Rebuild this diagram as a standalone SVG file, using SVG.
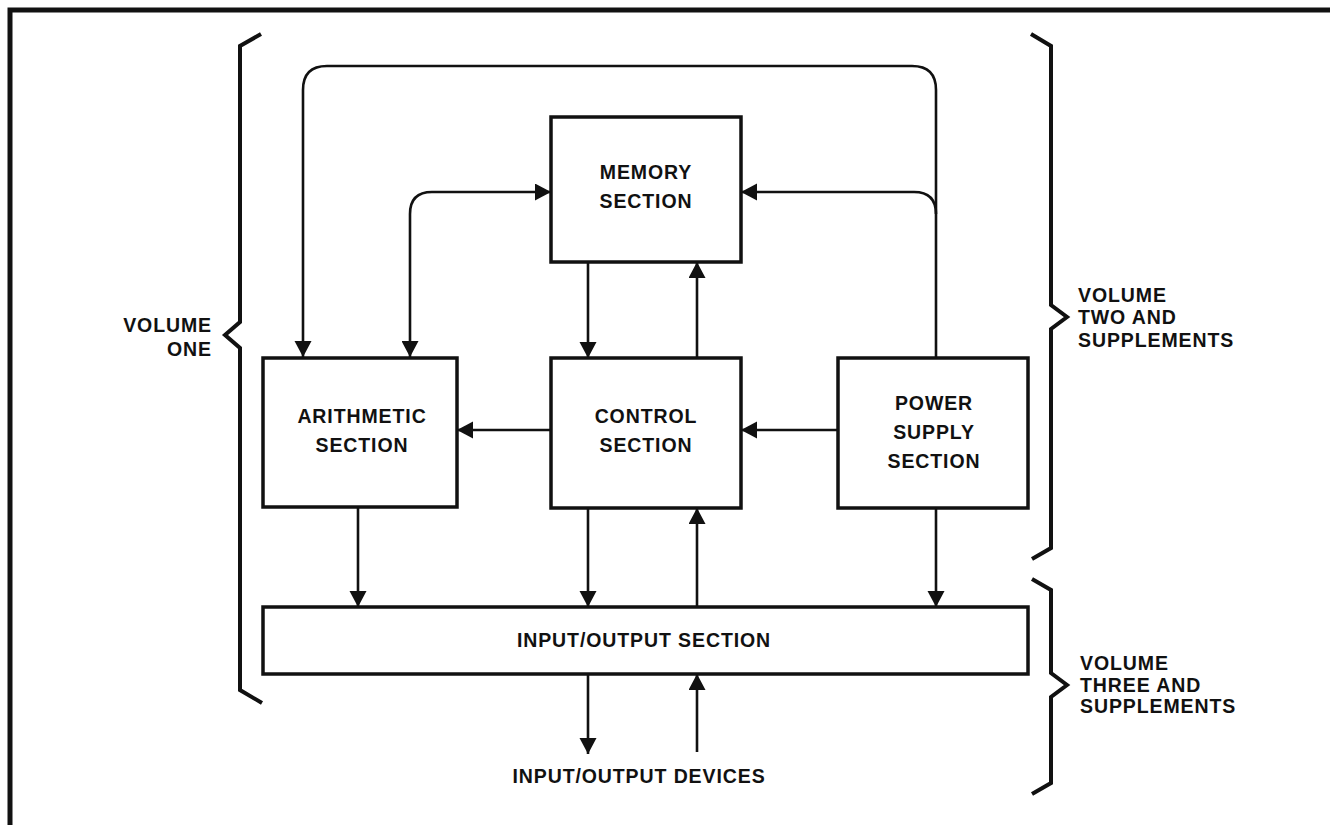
<svg xmlns="http://www.w3.org/2000/svg" width="1330" height="825" viewBox="0 0 1330 825">
  <style>
    .box { fill: #fff; stroke: #111; stroke-width: 3.5; }
    .wire { fill: none; stroke: #111; stroke-width: 2.6; }
    .brace { fill: none; stroke: #111; stroke-width: 4; stroke-linejoin: miter; }
    .frame { fill: none; stroke: #111; stroke-width: 5; }
    text { font-family: "Liberation Sans", Arial, Helvetica, sans-serif; font-weight: bold; font-size: 19.5px; letter-spacing: 0.9px; fill: #111; }
    .c { text-anchor: middle; }
    .r { text-anchor: end; }
  </style>
  <defs>
    <marker id="arrow" markerUnits="userSpaceOnUse" markerWidth="17" markerHeight="18" refX="16" refY="8.5" orient="auto">
      <path d="M0,0 L16,8.5 L0,17 Z" fill="#111"/>
    </marker>
    <marker id="arrowStart" markerUnits="userSpaceOnUse" markerWidth="17" markerHeight="18" refX="0" refY="8.5" orient="auto">
      <path d="M16,0 L0,8.5 L16,17 Z" fill="#111"/>
    </marker>
  </defs>

  <rect width="1330" height="825" fill="#fff"/>

  <!-- page frame: left and top rules -->
  <path class="frame" d="M10,825 L10,10 L1330,10"/>

  <!-- volume braces -->
  <g id="brace-volume-one">
    <path class="brace" d="M261,34 L240,46 L240,322 L225,335 L240,348 L240,690 L262,703"/>
    <text class="r" x="212" y="332" letter-spacing="1.3">VOLUME</text>
    <text class="r" x="212" y="356" letter-spacing="1.3">ONE</text>
  </g>
  <g id="brace-volume-two">
    <path class="brace" d="M1031,34 L1051,46 L1051,305 L1067,317 L1051,329 L1051,548 L1032,559"/>
    <text x="1078" y="302" letter-spacing="1.3">VOLUME</text>
    <text x="1078" y="324" letter-spacing="0.8">TWO AND</text>
    <text x="1078" y="347" letter-spacing="0.4">SUPPLEMENTS</text>
  </g>
  <g id="brace-volume-three">
    <path class="brace" d="M1032,579 L1051,590 L1051,673 L1067,685 L1051,697 L1051,783 L1032,794"/>
    <text x="1080" y="670" letter-spacing="1.3">VOLUME</text>
    <text x="1080" y="692" letter-spacing="0.8">THREE AND</text>
    <text x="1080" y="713" letter-spacing="0.4">SUPPLEMENTS</text>
  </g>

  <!-- connectors -->
  <g id="connectors">
    <!-- power supply feed over the top to the arithmetic section -->
    <path class="wire" d="M936,358 L936,90 Q936,66 912,66 L327,66 Q303,66 303,90 L303,357" marker-end="url(#arrow)"/>
    <!-- power supply feed to memory -->
    <path class="wire" d="M936,214 Q936,192 914,192 L741,192" marker-end="url(#arrow)"/>
    <!-- memory <-> arithmetic -->
    <path class="wire" d="M410,357 L410,214 Q410,192 432,192 L551,192" marker-end="url(#arrow)" marker-start="url(#arrowStart)"/>
    <!-- memory <-> control -->
    <path class="wire" d="M588,262 L588,358" marker-end="url(#arrow)"/>
    <path class="wire" d="M697,358 L697,262" marker-end="url(#arrow)"/>
    <!-- control -> arithmetic, power -> control -->
    <path class="wire" d="M551,430 L457,430" marker-end="url(#arrow)"/>
    <path class="wire" d="M838,430 L741,430" marker-end="url(#arrow)"/>
    <!-- down to input/output -->
    <path class="wire" d="M358,507 L358,607" marker-end="url(#arrow)"/>
    <path class="wire" d="M588,508 L588,607" marker-end="url(#arrow)"/>
    <path class="wire" d="M697,607 L697,508" marker-end="url(#arrow)"/>
    <path class="wire" d="M936,508 L936,607" marker-end="url(#arrow)"/>
    <!-- input/output section <-> devices -->
    <path class="wire" d="M588,674 L588,754" marker-end="url(#arrow)"/>
    <path class="wire" d="M697,752 L697,674" marker-end="url(#arrow)"/>
  </g>

  <!-- nodes -->
  <g id="memory">
    <rect class="box" x="551" y="117" width="190" height="145"/>
    <text class="c" x="646" y="179" letter-spacing="1.2">MEMORY</text>
    <text class="c" x="646" y="208">SECTION</text>
  </g>
  <g id="arithmetic">
    <rect class="box" x="263" y="358" width="194" height="149"/>
    <text class="c" x="362" y="423" letter-spacing="1.5">ARITHMETIC</text>
    <text class="c" x="362" y="452">SECTION</text>
  </g>
  <g id="control">
    <rect class="box" x="551" y="358" width="190" height="150"/>
    <text class="c" x="646" y="423" letter-spacing="1.2">CONTROL</text>
    <text class="c" x="646" y="452">SECTION</text>
  </g>
  <g id="power-supply">
    <rect class="box" x="838" y="358" width="190" height="150"/>
    <text class="c" x="934" y="410" letter-spacing="0.3">POWER</text>
    <text class="c" x="934" y="439" letter-spacing="0.3">SUPPLY</text>
    <text class="c" x="934" y="468">SECTION</text>
  </g>
  <g id="input-output">
    <rect class="box" x="263" y="607" width="765" height="67"/>
    <text class="c" x="644" y="647" letter-spacing="0.65">INPUT/OUTPUT SECTION</text>
  </g>
  <g id="devices">
    <text class="c" x="639" y="783" letter-spacing="0.65">INPUT/OUTPUT DEVICES</text>
  </g>
</svg>
